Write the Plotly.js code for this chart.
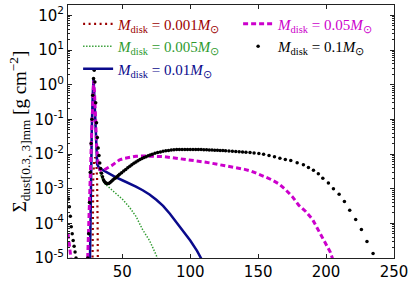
<!DOCTYPE html>
<html><head><meta charset="utf-8">
<script src="https://cdn.plot.ly/plotly-3.0.1.min.js"></script>
<style>html,body{margin:0;padding:0;background:#fff;}#chart{width:415px;height:282px;}</style>
</head><body><div id="chart"></div>
<script>
// Series labels
const seriesNames = [
  '<i>M</i><sub>disk</sub> = 0.001<i>M</i><sub>⊙</sub>',
  '<i>M</i><sub>disk</sub> = 0.005<i>M</i><sub>⊙</sub>',
  '<i>M</i><sub>disk</sub> = 0.01<i>M</i><sub>⊙</sub>',
  '<i>M</i><sub>disk</sub> = 0.05<i>M</i><sub>⊙</sub>',
  '<i>M</i><sub>disk</sub> = 0.1<i>M</i><sub>⊙</sub>'
];

// M_disk = 0.001
const r001 = [28.0, 28.2, 28.6, 29.2, 30.0, 30.8, 31.4, 31.8, 32.0];
const s001 = [5e-6, 1e-4, 2e-3, 6e-3, 8e-3, 6e-3, 2e-3, 1e-4, 5e-6];

// M_disk = 0.005
const r005 = [26.3, 27.5, 28.8, 29.6, 30.4, 31.2, 32.5, 34, 37, 40, 45, 50, 55, 60, 65, 70, 75, 78];
const s005 = [1e-5, 0.03, 1.0, 0.2, 0.03, 8e-3, 3.8e-3, 2.4e-3, 1.4e-3, 1.1e-3, 7.5e-4, 5e-4, 3e-4, 1.6e-4, 6.5e-5, 3.2e-5, 1.2e-5, 5e-6];

// M_disk = 0.01
const r01 = [26.2, 26.8, 27.5, 28.2, 28.8, 29.6, 30.3, 30.8, 31.5, 33, 35, 38, 45, 50, 55, 60, 65, 70, 75, 80, 85, 90, 95, 100, 105, 110];
const s01 = [1e-5, 1e-3, 0.05, 0.5, 1.5, 0.3, 0.04, 0.01, 5e-3, 3.9e-3, 3.5e-3, 3.1e-3, 2.15e-3, 1.75e-3, 1.45e-3, 1.15e-3, 9e-4, 6.8e-4, 4.8e-4, 3.2e-4, 1.9e-4, 1.07e-4, 6e-5, 3.2e-5, 1.6e-5, 7e-6];

// M_disk = 0.05
const r05a = [10, 11, 12, 12.6];
const s05a = [5e-5, 2.2e-5, 1e-5, 7e-6];
const r05 = [24.5, 25.5, 26.5, 27.5, 28.3, 28.9, 29.6, 30.3, 31, 32, 33.5, 35, 37, 39, 42, 45, 48, 52, 56, 60, 65, 70, 75, 80, 85, 90, 95, 100, 105, 110, 115, 120, 125, 130, 135, 140, 145, 150, 155, 160, 165, 170, 175, 180, 185, 190, 195, 200, 203, 205];
const s05 = [1e-5, 1e-4, 3e-3, 0.05, 0.5, 1.3, 0.5, 0.08, 0.02, 6e-3, 3.5e-3, 3.2e-3, 3.5e-3, 3.9e-3, 4.6e-3, 5.6e-3, 6.8e-3, 7.6e-3, 8.2e-3, 8.6e-3, 8.8e-3, 8.8e-3, 8.7e-3, 8.4e-3, 8.0e-3, 7.6e-3, 7.1e-3, 6.7e-3, 6.3e-3, 5.9e-3, 5.5e-3, 5.1e-3, 4.7e-3, 4.3e-3, 4.0e-3, 3.6e-3, 3.2e-3, 2.7e-3, 2.2e-3, 1.8e-3, 1.4e-3, 9.5e-4, 6e-4, 3.3e-4, 2.2e-4, 1.3e-4, 5.8e-5, 2.6e-5, 1.5e-5, 9e-6];

// M_disk = 0.1 (dots)
const r1 = [10.3, 11, 11.7, 12.4, 13.1, 13.8, 14.5, 15.2, 15.9,
  24.6, 25.2, 25.8, 26.4, 27, 27.6, 28.2, 28.8, 29.3, 29.8, 30.4, 31, 31.6, 32.2, 32.8, 33.4, 34, 34.7, 35.4, 36.1, 36.8, 37.5, 38.2, 39, 40, 41, 42, 43, 44, 45, 46, 47, 48, 49.5, 51, 52.5, 54, 55.5, 57, 58.5, 60, 61.5, 63, 64.5, 66, 67.5, 69, 70.5, 72, 74, 76, 78, 80, 82, 84, 86, 88, 90, 92, 94, 96, 98, 100, 102, 104, 106, 108, 110, 112, 114, 116, 118, 120, 122, 124, 126, 128.5, 131, 133.5, 136, 138.5, 141, 144, 147, 150.5, 154, 158, 162, 166, 170, 174, 178.7,
  183.3, 187, 190.7, 194.3, 197.6, 201.7, 205.4, 209.6, 213.5, 217.4, 221.8, 226, 230.1, 234.6];
const s1 = [5e-4, 3e-4, 1.6e-4, 8e-5, 5e-5, 3.2e-5, 2.2e-5, 1.5e-5, 1e-5,
  1e-5, 5e-5, 4e-4, 3e-3, 0.02, 0.1, 0.5, 1.5, 2.6, 1.2, 0.3, 0.08, 0.03, 0.015, 9e-3, 5.5e-3, 3.8e-3, 2.8e-3, 2.2e-3, 1.8e-3, 1.6e-3, 1.5e-3, 1.42e-3, 1.4e-3, 1.42e-3, 1.52e-3, 1.65e-3, 1.78e-3, 1.92e-3, 2.05e-3, 2.2e-3, 2.4e-3, 2.6e-3, 2.9e-3, 3.25e-3, 3.6e-3, 4e-3, 4.45e-3, 4.9e-3, 5.4e-3, 5.9e-3, 6.4e-3, 6.9e-3, 7.4e-3, 7.9e-3, 8.4e-3, 8.9e-3, 9.4e-3, 9.9e-3, 1.05e-2, 1.1e-2, 1.15e-2, 1.2e-2, 1.24e-2, 1.27e-2, 1.3e-2, 1.32e-2, 1.34e-2, 1.35e-2, 1.36e-2, 1.36e-2, 1.36e-2, 1.36e-2, 1.36e-2, 1.35e-2, 1.35e-2, 1.34e-2, 1.33e-2, 1.32e-2, 1.31e-2, 1.3e-2, 1.29e-2, 1.28e-2, 1.27e-2, 1.26e-2, 1.25e-2, 1.23e-2, 1.21e-2, 1.19e-2, 1.17e-2, 1.14e-2, 1.12e-2, 1.1e-2, 1.07e-2, 1.03e-2, 9.8e-3, 9.1e-3, 8.3e-3, 7.6e-3, 6.9e-3, 6.5e-3, 5.6e-3,
  4.9e-3, 4.1e-3, 3.4e-3, 2.7e-3, 2.0e-3, 1.45e-3, 1.0e-3, 6.9e-4, 4.3e-4, 2.4e-4, 1.3e-4, 6.6e-5, 3e-5, 1.35e-5];

// Axis ticks
const xTickVals = [50, 100, 150, 200, 250];
const xTickText = ['50', '100', '150', '200', '250'];
const yTickVals = [1e-5, 1e-4, 1e-3, 1e-2, 1e-1, 1, 10, 100];
const yTickText = ['10<sup>-5</sup>', '10<sup>-4</sup>', '10<sup>-3</sup>', '10<sup>-2</sup>', '10<sup>-1</sup>', '10<sup>0</sup>', '10<sup>1</sup>', '10<sup>2</sup>'];

const colors = ['#9b0000', '#2e9a2e', '#0a0a8c', '#cc00cc', '#000000'];

const minorY = [];
for (let e = -5; e <= 2; e++) for (let k = 2; k <= 9; k++) minorY.push(k * Math.pow(10, e));

const traces = [
  {x: r001, y: s001, name: seriesNames[0], mode: 'lines', legendrank: 1,
   line: {color: colors[0], width: 2.2, dash: '2px,3.5px'}},
  {x: r005, y: s005, name: seriesNames[1], mode: 'lines', legendrank: 3,
   line: {color: colors[1], width: 1.5, dash: '1.4px,1.6px'}},
  {x: r01, y: s01, name: seriesNames[2], mode: 'lines', legendrank: 5,
   line: {color: colors[2], width: 2.5}},
  {x: r05a, y: s05a, name: seriesNames[3], mode: 'lines', showlegend: false, legendgroup: 'm05',
   line: {color: colors[3], width: 3, dash: '5px,3px'}},
  {x: r05, y: s05, name: seriesNames[3], mode: 'lines', legendrank: 2, legendgroup: 'm05',
   line: {color: colors[3], width: 3, dash: '5px,3px'}},
  {x: r1, y: s1, name: seriesNames[4], mode: 'markers', legendrank: 4,
   marker: {color: colors[4], size: 3.5}}
];

const axisCommon = {
  showline: true, linecolor: '#222', linewidth: 1, mirror: 'ticks',
  ticks: 'inside', ticklen: 4, tickwidth: 1, tickcolor: '#222',
  showgrid: false, zeroline: false,
  tickfont: {family: 'DejaVu Sans', size: 15, color: '#000'}
};

const layout = {
  width: 415, height: 282,
  margin: {l: 68, r: 21, t: 5, b: 24},
  paper_bgcolor: '#fff', plot_bgcolor: '#fff',
  showlegend: true,
  legend: {
    orientation: 'h', x: 0.031, xanchor: 'left', y: 0.99, yanchor: 'top',
    entrywidth: 115, bgcolor: 'rgba(0,0,0,0)', borderwidth: 0,
    font: {family: 'Liberation Serif', size: 15}, traceorder: 'normal'
  },
  xaxis: Object.assign({}, axisCommon, {
    range: [10, 250], tickmode: 'array', tickvals: xTickVals, ticktext: xTickText
  }),
  yaxis: Object.assign({}, axisCommon, {
    type: 'log', range: [-5, 2.3], tickmode: 'array', tickvals: yTickVals, ticktext: yTickText,
    minor: {tickmode: 'array', tickvals: minorY, ticks: 'inside', ticklen: 2, tickcolor: '#222', showgrid: false},
    title: {text: 'Σ<sub>dust[0.3, 3]mm</sub> [g cm<sup>−2</sup>]', font: {family: 'Liberation Serif', size: 19, color: '#000'}, standoff: 2}
  })
};

Plotly.newPlot('chart', traces, layout, {staticPlot: true, displayModeBar: false});

// color legend texts like their series
function colorLegend() {
  const items = document.querySelectorAll('.legend .traces');
  items.forEach(function(el) {
    const d = el.__data__;
    if (d && d[0] && d[0].trace) {
      const t = d[0].trace;
      const c = t.mode === 'markers' ? t.marker.color : t.line.color;
      const txt = el.querySelector('text.legendtext');
      if (txt) { txt.style.fill = c; txt.querySelectorAll('tspan').forEach(function(s){ s.style.fill = c; }); }
    }
  });
}
colorLegend();
</script>
</body></html>
